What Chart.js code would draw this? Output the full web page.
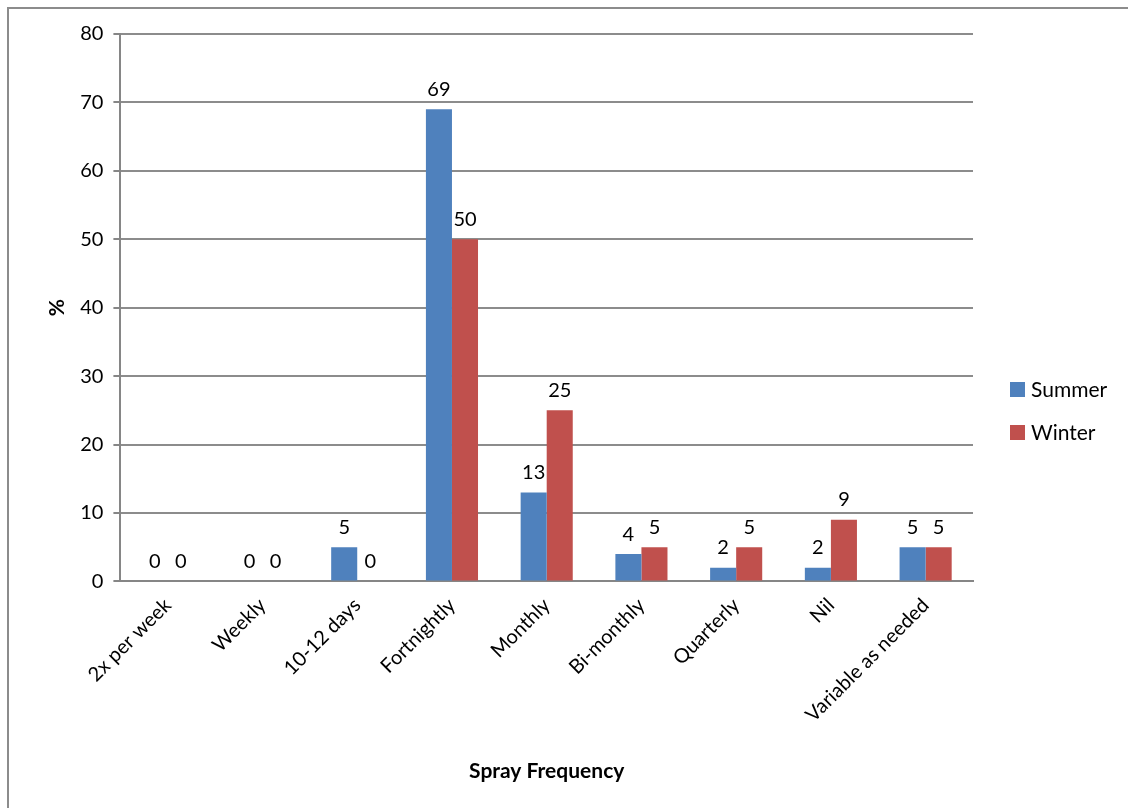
<!DOCTYPE html>
<html>
<head>
<meta charset="utf-8">
<style>
  html, body { margin: 0; padding: 0; background: #fff; }
  #wrap { width: 1128px; height: 808px; position: relative; }
</style>
<script src="https://cdn.jsdelivr.net/npm/chart.js@4.4.0/dist/chart.umd.min.js"></script>
</head>
<body>
<div id="wrap"><canvas id="c" width="1128" height="808"></canvas></div>
<script>
const categories = ["2x per week", "Weekly", "10-12 days", "Fortnightly", "Monthly", "Bi-monthly", "Quarterly", "Nil", "Variable as needed"];
const summer = [0, 0, 5, 69, 13, 4, 2, 2, 5];
const winter = [0, 0, 0, 50, 25, 5, 5, 9, 5];
const seriesNames = ["Summer", "Winter"];
const seriesColors = ["#4F81BD", "#C0504D"];

const FONT = "Lato, 'Open Sans', sans-serif";

// value labels above each bar
const valueLabels = {
  id: 'valueLabels',
  afterDatasetsDraw(chart) {
    const ctx = chart.ctx;
    ctx.save();
    ctx.font = "20px " + FONT;
    ctx.fillStyle = "#000";
    ctx.textAlign = "center";
    ctx.textBaseline = "bottom";
    chart.data.datasets.forEach((ds, i) => {
      chart.getDatasetMeta(i).data.forEach((bar, j) => {
        ctx.fillText(String(ds.data[j]), bar.x, bar.y - 10);
      });
    });
    ctx.restore();
  }
};

// outer frame and right-hand legend
const frameAndLegend = {
  id: 'frameAndLegend',
  afterDraw(chart) {
    const ctx = chart.ctx;
    ctx.save();
    ctx.strokeStyle = "#8c8c8c";
    ctx.lineWidth = 2;
    ctx.strokeRect(8, 8, 1140, 820);
    ctx.font = "21px " + FONT;
    ctx.textBaseline = "middle";
    ctx.textAlign = "left";
    chart.data.datasets.forEach((ds, i) => {
      const y = 389 + i * 43;
      ctx.fillStyle = ds.backgroundColor;
      ctx.fillRect(1010, y - 7, 15, 15);
      ctx.fillStyle = "#000";
      ctx.fillText(ds.label, 1031, y + 1);
    });
    ctx.restore();
  }
};

new Chart(document.getElementById('c'), {
  type: 'bar',
  data: {
    labels: categories,
    datasets: [
      { label: seriesNames[0], data: summer, backgroundColor: seriesColors[0] },
      { label: seriesNames[1], data: winter, backgroundColor: seriesColors[1] }
    ]
  },
  options: {
    responsive: false,
    animation: false,
    devicePixelRatio: 1,
    layout: { padding: { left: 45, right: 155, top: 34, bottom: 24 } },
    datasets: { bar: { barPercentage: 1, categoryPercentage: 0.55 } },
    plugins: { legend: { display: false }, tooltip: { enabled: false } },
    scales: {
      x: {
        grid: { display: false, drawTicks: false },
        border: { display: true, color: "#868686", width: 2 },
        ticks: {
          color: "#000",
          font: { family: FONT, size: 20 },
          minRotation: 45, maxRotation: 45,
          padding: 12
        },
        title: {
          display: true, text: "Spray Frequency", color: "#000",
          font: { family: FONT, size: 21, weight: 'bold' },
          padding: { top: 20, bottom: 0 }
        }
      },
      y: {
        min: 0, max: 80,
        ticks: { stepSize: 10, color: "#000", font: { family: FONT, size: 20 }, padding: 10 },
        grid: { color: "#8c8c8c", lineWidth: 2, tickLength: 7, tickColor: "#868686" },
        border: { display: true, color: "#868686", width: 2 },
        title: {
          display: true, text: "%", color: "#000",
          font: { family: FONT, size: 21, weight: 'bold' },
          padding: { top: 0, bottom: 0 }
        }
      }
    }
  },
  plugins: [valueLabels, frameAndLegend]
});
</script>
</body>
</html>
